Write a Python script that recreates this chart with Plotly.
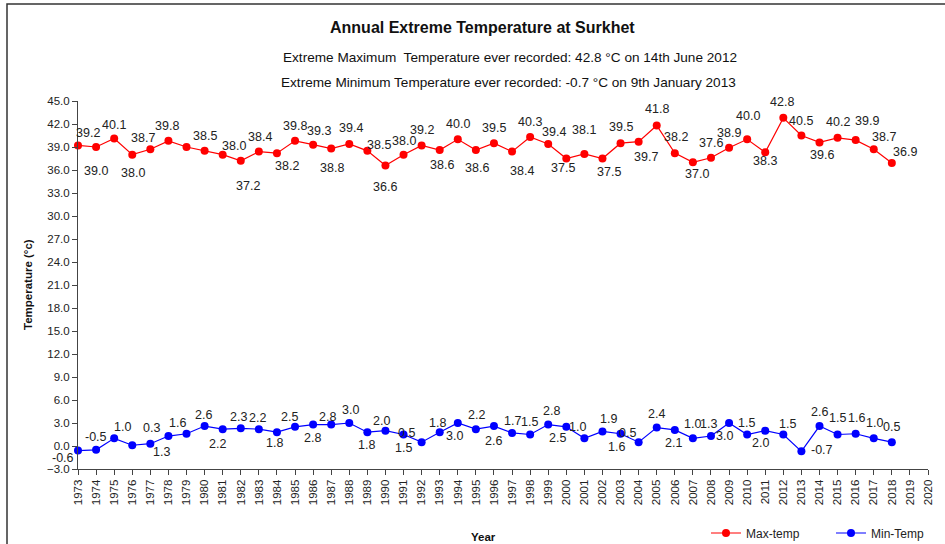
import plotly.graph_objects as go

years = list(range(1973, 2019))
max_temp = [39.2, 39.0, 40.1, 38.0, 38.7, 39.8, 39.0, 38.5, 38.0, 37.2,
            38.4, 38.2, 39.8, 39.3, 38.8, 39.4, 38.5, 36.6, 38.0, 39.2,
            38.6, 40.0, 38.6, 39.5, 38.4, 40.3, 39.4, 37.5, 38.1, 37.5,
            39.5, 39.7, 41.8, 38.2, 37.0, 37.6, 38.9, 40.0, 38.3, 42.8,
            40.5, 39.6, 40.2, 39.9, 38.7, 36.9]
min_temp = [-0.6, -0.5, 1.0, 0.1, 0.3, 1.3, 1.6, 2.6, 2.2, 2.3,
            2.2, 1.8, 2.5, 2.8, 2.8, 3.0, 1.8, 2.0, 1.5, 0.5,
            1.8, 3.0, 2.2, 2.6, 1.7, 1.5, 2.8, 2.5, 1.0, 1.9,
            1.6, 0.5, 2.4, 2.1, 1.0, 1.3, 3.0, 1.5, 2.0, 1.5,
            -0.7, 2.6, 1.5, 1.6, 1.0, 0.5]
# years whose value label is not shown in the original chart
max_unlabelled = [1979]
min_unlabelled = [1976]

# label offsets in pixels (dx right, dy down) relative to each marker
max_dx = [10, 0, 0, 1, -7, -1, 0, 0, 11, 7,
          1, 10, 0, 6, 1, 2, 12, 0, 0, 0,
          2, 0, 1, 0, 10, 0, 6, -3, 0, 7,
          0, 7, 0, 1, 4, 0, 0, 1, 0, -1,
          0, 3, 0, 11, 10, 13]
max_dy = [-12, 24, -14, 18, -11, -15, -15, -15, -9, 25,
          -15, 13, -15, -14, 19, -16, -6, 22, -14, -15,
          15, -15, 18, -15, 19, -15, -12, 9, -24, 13,
          -16, 15, -17, -16, 12, -15, -15, -23, 9, -16,
          -15, 13, -16, -19, -12, -11]
min_dx = [-15, 0, 8, 0, 1, -7, -9, -1, -5, -2,
          -1, -2, -6, -1, -4, 1, -1, -4, 0, -15,
          -2, -3, 1, 0, 0, -1, 3, -9, -7, 6,
          -4, -11, 0, -1, 0, -2, -5, -1, -5, 4,
          21, 0, 0, 1, 1, 0]
min_dy = [7, -13, -11, 0, -16, 16, -11, -11, 15, -11,
          -11, 11, -10, 13, -8, -13, 13, -10, 13, -9,
          -9, 13, -14, 15, -12, -13, -14, 11, -11, -12,
          13, -9, -14, 13, -14, -12, 13, -12, 12, -11,
          -1, -14, -17, -16, -15, -15]

lab_font = dict(family="Liberation Sans, Arial", size=12.5, color="#222222")
base_font = "Liberation Sans, Arial"

fig = go.Figure()
fig.add_trace(go.Scatter(
    x=years, y=max_temp, name="Max-temp", mode="lines+markers",
    line=dict(color="#ff0000", width=1.2),
    marker=dict(color="#ff0000", size=8), legend="legend", cliponaxis=False))
fig.add_trace(go.Scatter(
    x=years, y=min_temp, name="Min-Temp", mode="lines+markers",
    line=dict(color="#0000ff", width=1.2),
    marker=dict(color="#0000ff", size=8), legend="legend2", cliponaxis=False))

annotations = []
for vals, skip, dxs, dys in ((max_temp, max_unlabelled, max_dx, max_dy),
                             (min_temp, min_unlabelled, min_dx, min_dy)):
    for yr, v, dx, dy in zip(years, vals, dxs, dys):
        if yr in skip:
            continue
        annotations.append(dict(x=yr, y=v, xref="x", yref="y", text=f"{v:.1f}",
                                showarrow=False, xanchor="center", yanchor="middle",
                                xshift=dx, yshift=-dy, font=lab_font))

L, R, TM, BM = 78, 17, 101, 75
W, H = 945 - L - R, 544 - TM - BM

def px_x(p):
    return (p - L) / W

def px_y(p):
    return (544 - BM - p) / H

paper_txt = dict(xref="paper", yref="paper", showarrow=False,
                 xanchor="center", yanchor="middle")
annotations += [
    dict(text="<b>Annual Extreme Temperature at Surkhet</b>",
         x=px_x(482), y=px_y(28), font=dict(size=16, family=base_font, color="#111111"),
         **paper_txt),
    dict(text="Extreme Maximum  Temperature ever recorded: 42.8 °C on 14th June 2012",
         x=px_x(510), y=px_y(58), font=dict(size=13.6, family=base_font, color="#111111"),
         **paper_txt),
    dict(text="Extreme Minimum Temperature ever recorded: -0.7 °C on 9th January 2013",
         x=px_x(508), y=px_y(83), font=dict(size=13.6, family=base_font, color="#111111"),
         **paper_txt),
    dict(text="<b>Year</b>", x=px_x(483), y=px_y(537),
         font=dict(size=11.5, family=base_font, color="#111111"), **paper_txt),
    dict(text="<b>Temperature (°c)</b>", x=px_x(28), y=px_y(285), textangle=-90,
         font=dict(size=11.5, family=base_font, color="#111111"), **paper_txt),
]

leg_common = dict(orientation="h", xanchor="left", yanchor="middle",
                  font=dict(size=12, family=base_font, color="#222222"),
                  bgcolor="rgba(0,0,0,0)", itemwidth=30)

fig.update_layout(
    width=945, height=544,
    margin=dict(l=L, r=R, t=TM, b=BM, autoexpand=False),
    paper_bgcolor="white", plot_bgcolor="white",
    font=dict(family=base_font, size=11, color="#222222"),
    showlegend=True,
    legend=dict(x=px_x(706), y=px_y(533), **leg_common),
    legend2=dict(x=px_x(831), y=px_y(533), **leg_common),
    xaxis=dict(range=[1973, 2020], tickmode="linear", tick0=1973, dtick=1,
               tickangle=-90, showgrid=False, zeroline=False,
               showline=True, linecolor="#444444", linewidth=1,
               ticks="outside", ticklen=5, tickcolor="#444444",
               tickfont=dict(size=11.5)),
    yaxis=dict(range=[-3, 45], tickmode="linear", tick0=-3, dtick=3,
               tickformat=".1f", showgrid=False, zeroline=False,
               showline=True, linecolor="#444444", linewidth=1,
               ticks="outside", ticklen=5, tickcolor="#444444",
               tickfont=dict(size=11.5)),
    annotations=annotations,
    shapes=[dict(type="rect", xref="paper", yref="paper",
                 x0=px_x(7), x1=px_x(960), y0=px_y(560), y1=px_y(4),
                 line=dict(color="#333333", width=1.5), fillcolor="rgba(0,0,0,0)",
                 layer="below")],
)

fig.write_html("out.html", config={"displayModeBar": False},
               post_script="document.body.style.margin='0';document.body.style.overflow='hidden';")
